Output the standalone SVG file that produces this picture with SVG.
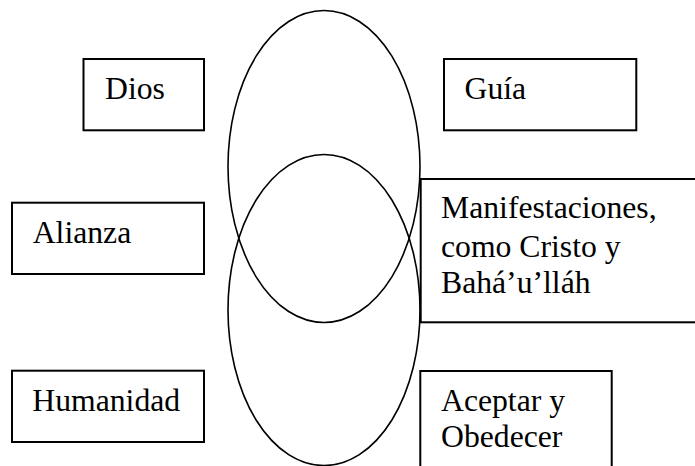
<svg xmlns="http://www.w3.org/2000/svg" width="695" height="466" viewBox="0 0 695 466">
<style>
.box{fill:none;stroke:#000;stroke-width:2}
.ell{fill:none;stroke:#000;stroke-width:1.6}
text{font-family:"Liberation Serif","Times New Roman",serif;font-size:31.7px;fill:#000}
</style>
<rect width="695" height="466" fill="#fff"/>
<g id="ellipses">
<ellipse class="ell" cx="324" cy="166.5" rx="96" ry="156"/>
<ellipse class="ell" cx="324" cy="310" rx="96" ry="155.5"/>
</g>
<g id="connectors"></g>
<g id="dios"><rect class="box" x="83.5" y="59" width="120.5" height="71.3"/><text x="105" y="99">Dios</text></g>
<g id="guia"><rect class="box" x="444" y="59" width="192.3" height="71.3"/><text x="464.5" y="99">Guía</text></g>
<g id="alianza"><rect class="box" x="12" y="202.7" width="192" height="71.3"/><text x="32.7" y="242.7">Alianza</text></g>
<g id="manifestaciones"><rect class="box" x="420.7" y="179" width="280" height="143.3"/><text x="441" y="218">Manifestaciones,</text><text x="441" y="256.7">como Cristo y</text><text x="441" y="292.7">Bahá’u’lláh</text></g>
<g id="humanidad"><rect class="box" x="12" y="370.7" width="192" height="71.3"/><text x="32.3" y="411">Humanidad</text></g>
<g id="aceptar"><rect class="box" x="420.3" y="371" width="191.4" height="110"/><text x="441" y="411">Aceptar y</text><text x="441" y="446.7">Obedecer</text></g>
</svg>
